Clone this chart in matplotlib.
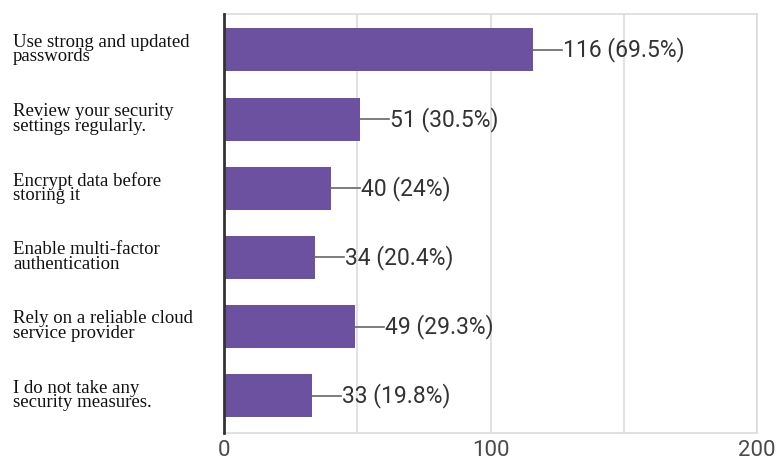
import matplotlib.pyplot as plt

# respuestas de la encuesta
categorias = ["Use strong and updated\npasswords",
              "Review your security\nsettings regularly.",
              "Encrypt data before\nstoring it",
              "Enable multi-factor\nauthentication",
              "Rely on a reliable cloud\nservice provider",
              "I do not take any\nsecurity measures."]
valores = [116, 51, 40, 34, 49, 33]
porcentajes = ["69.5%", "30.5%", "24%", "20.4%", "29.3%", "19.8%"]
ticks_x = [0, 100, 200]
grilla_x = [50, 100, 150, 200]

fig = plt.figure(figsize=(7.78, 4.61), dpi=100)
ax = fig.add_axes([0.288, 0.0607, 0.685, 0.909])

pos = list(range(len(categorias)))
ax.barh(pos, valores, height=0.62, color="#6c51a0", zorder=3)

for x in grilla_x:
    ax.axvline(x, color="#dcdcdc", lw=1.2, zorder=1)

for i, (v, p) in enumerate(zip(valores, porcentajes)):
    ax.plot([v, v + 11], [i, i], color="#666666", lw=1.2, zorder=3)
    ax.text(v + 11.3, i, f"{v} ({p})", va="center", ha="left",
            fontsize=16.5, family="Roboto", color="#333333")

ax.set_xlim(0, 200)
ax.set_ylim(5.54, -0.52)
ax.set_xticks(ticks_x)
ax.set_xticklabels([str(t) for t in ticks_x], family="Roboto", fontsize=16, color="#4a4a4a")
ax.tick_params(axis="x", length=0, pad=5)
ax.set_yticks([])

for i, c in enumerate(categorias):
    fig.text(13 / 778, 1 - (49.5 + i * 69.2) / 461, c, ha="left", va="center",
             family="Liberation Serif", fontsize=13.5, linespacing=0.82, color="#111111")

for s in ["top", "right", "bottom"]:
    ax.spines[s].set_color("#dcdcdc")
    ax.spines[s].set_linewidth(1.2)
ax.spines["left"].set_color("#333333")
ax.spines["left"].set_linewidth(2)
ax.spines["left"].set_zorder(4)

fig.savefig("out.png", dpi=100)
